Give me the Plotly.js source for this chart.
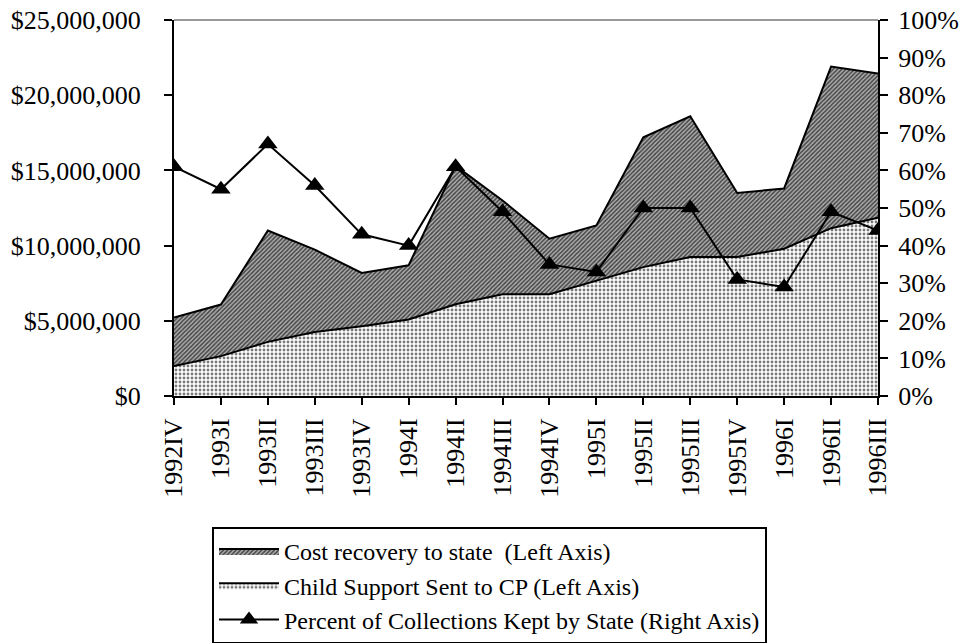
<!DOCTYPE html>
<html>
<head>
<meta charset="utf-8">
<script src="https://cdn.plot.ly/plotly-3.0.1.min.js"></script>
<style>
html,body{margin:0;padding:0;background:#fff;}
#chart{width:965px;height:643px;}
</style>
</head>
<body>
<div id="chart"></div>
<script>
var quarters = ["1992IV","1993I","1993II","1993III","1993IV","1994I","1994II","1994III","1994IV","1995I","1995II","1995III","1995IV","1996I","1996II","1996III"];
var childSupportToCP = [1990000,2650000,3600000,4260000,4640000,5090000,6100000,6760000,6760000,7690000,8570000,9240000,9240000,9790000,11160000,11850000];
var costRecoveryToState = [3230000,3430000,7400000,5470000,3540000,3600000,9200000,6240000,3700000,3650000,8630000,9360000,4260000,4010000,10740000,9600000];
var percentKeptByState = [0.61,0.55,0.67,0.56,0.43,0.40,0.61,0.49,0.35,0.33,0.50,0.50,0.31,0.29,0.49,0.44];

var FONT = "Liberation Serif, Times New Roman, serif";
var TICKSIZE = 26;

var traces = [
  {
    type: "scatter", mode: "lines", name: "Child Support Sent to CP (Left Axis)",
    x: quarters, y: childSupportToCP, stackgroup: "money",
    line: {color: "#000", width: 2},
    fillcolor: "#ffffff",
    fillpattern: {shape: ".", fgcolor: "#7a7a7a", bgcolor: "#ffffff", size: 4, solidity: 0.4},
    legendrank: 2, hoverinfo: "skip"
  },
  {
    type: "scatter", mode: "lines", name: "Cost recovery to state  (Left Axis)",
    x: quarters, y: costRecoveryToState, stackgroup: "money",
    line: {color: "#000", width: 2},
    fillcolor: "#ffffff",
    fillpattern: {shape: "/", fgcolor: "#444444", bgcolor: "#b0b0b0", size: 3, solidity: 0.5},
    legendrank: 1, hoverinfo: "skip"
  },
  {
    type: "scatter", mode: "lines+markers", name: "Percent of Collections Kept by State (Right Axis)",
    x: quarters, y: percentKeptByState, yaxis: "y2",
    line: {color: "#000", width: 2},
    marker: {symbol: "triangle-up", size: 17, color: "#000"},
    legendrank: 3, hoverinfo: "skip"
  }
];

var layout = {
  width: 965, height: 643,
  margin: {l: 174, r: 87, t: 20, b: 247, pad: 0},
  paper_bgcolor: "#fff", plot_bgcolor: "#fff",
  font: {family: FONT, size: 24, color: "#000"},
  showlegend: true,
  legend: {
    xref: "paper", x: 0.054, xanchor: "left",
    yref: "container", y: 0.1804, yanchor: "top",
    bordercolor: "#000", borderwidth: 2, bgcolor: "#fff",
    font: {family: FONT, size: 24, color: "#000"},
    itemwidth: 60, tracegroupgap: 0, traceorder: "normal"
  },
  xaxis: {
    type: "category", range: [0, 15],
    showline: true, linecolor: "#000", linewidth: 2,
    ticks: "outside", ticklen: 7, tickwidth: 2, tickcolor: "#000",
    ticklabelstandoff: 3,
    tickangle: -90, showgrid: false, zeroline: false,
    tickfont: {family: FONT, size: TICKSIZE, color: "#000"}
  },
  xaxis2: {
    type: "category", range: [0, 15], overlaying: "x", anchor: "y", side: "bottom",
    categoryarray: quarters, categoryorder: "array", tickvals: quarters,
    showline: false, ticks: "inside", ticklen: 6, tickwidth: 2, tickcolor: "#000",
    showticklabels: false, showgrid: false, zeroline: false
  },
  yaxis: {
    range: [0, 25000000], dtick: 5000000, tickprefix: "$", tickformat: ",.0f",
    showline: true, linecolor: "#000", linewidth: 2,
    ticks: "outside", ticklen: 8, tickwidth: 2, tickcolor: "#000",
    ticklabelstandoff: 18,
    showgrid: false, zeroline: false,
    tickfont: {family: FONT, size: TICKSIZE, color: "#000"}
  },
  yaxis2: {
    overlaying: "y", side: "right", range: [0, 1], dtick: 0.1, tickformat: ".0%",
    showline: true, linecolor: "#000", linewidth: 2,
    ticks: "outside", ticklen: 8, tickwidth: 2, tickcolor: "#000",
    ticklabelstandoff: 5,
    showgrid: false, zeroline: false,
    tickfont: {family: FONT, size: TICKSIZE, color: "#000"}
  },
  yaxis3: {
    overlaying: "y", side: "left", anchor: "x", range: [0, 25000000], dtick: 5000000,
    showline: false, ticks: "inside", ticklen: 6, tickwidth: 2, tickcolor: "#000",
    showticklabels: false, showgrid: false, zeroline: false
  },
  yaxis4: {
    overlaying: "y", side: "right", anchor: "x", range: [0, 1], dtick: 0.1,
    showline: false, ticks: "inside", ticklen: 6, tickwidth: 2, tickcolor: "#000",
    showticklabels: false, showgrid: false, zeroline: false
  },
  shapes: [
    {type: "line", xref: "paper", yref: "paper", x0: 0, x1: 1, y0: 1, y1: 1,
     line: {color: "#999", width: 2}}
  ]
};

Plotly.newPlot("chart", traces, layout, {staticPlot: true, displayModeBar: false});
</script>
</body>
</html>
